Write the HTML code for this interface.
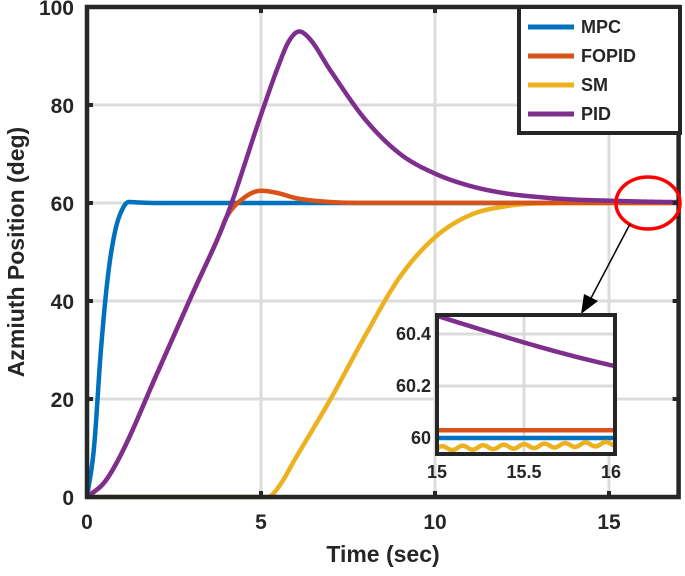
<!DOCTYPE html>
<html><head><meta charset="utf-8"><style>
body{margin:0;background:#fff;}
text{font-family:"Liberation Sans",sans-serif;font-weight:bold;fill:#262626;}
</style></head><body>
<svg id="chart" width="685" height="571" viewBox="0 0 685 571" xmlns="http://www.w3.org/2000/svg"></svg>
<script>
const xTicks=[0,5,10,15];
const yTicks=[0,20,40,60,80,100];
const mpcT=[0,0.2,0.4,0.6,0.8,1,1.2,1.5,2,17];
const mpcV=[0,10,30,45,54,58.5,60.2,60.1,60,60];
const fopidT=[0,0.5,1,2,3,3.8,4,4.5,5,5.5,6,7,8,17];
const fopidV=[0,3,9,25,41,53.5,57,61,62.5,62,61,60.2,60.03,60.03];
const smT=[0,5.2,5.5,6,7,8,9,10,11,12,13,15,17];
const smV=[0,0,2,8,20,33,45,53,57.5,59.3,59.9,59.97,59.99];
const pidT=[0,0.5,1,2,3,4,5,5.5,5.8,6.1,6.4,7,8,9,10,11,12,13,14,15,16,17];
const pidV=[0,3,9,25,41,57,78,88,93,95,93.5,87,77,70,66,63.5,62,61.2,60.7,60.47,60.28,60.17];
const insXTicks=[15,15.5,16];
const insYTicks=[60,60.2,60.4];
const names=["MPC","FOPID","SM","PID"];
const colors=["#0072BD","#D95319","#EDB120","#7E2F8E"];
const NS="http://www.w3.org/2000/svg";
const svg=document.getElementById('chart');
function el(tag,attrs,parent){const e=document.createElementNS(NS,tag);for(const k in attrs)e.setAttribute(k,attrs[k]);(parent||svg).appendChild(e);return e;}
const X=t=>87+t*34.8, Y=v=>497-v*4.9;
function mono(T,V){const n=T.length,d=[],m=new Array(n);
for(let i=0;i<n-1;i++)d.push((V[i+1]-V[i])/(T[i+1]-T[i]));
m[0]=d[0];m[n-1]=d[n-2];
for(let i=1;i<n-1;i++){m[i]=(d[i-1]*d[i]<0)?0:(d[i-1]+d[i])/2;}
for(let i=0;i<n-1;i++){if(d[i]===0){m[i]=0;m[i+1]=0;continue;}const a=m[i]/d[i],b=m[i+1]/d[i],s=a*a+b*b;if(s>9){const tt=3/Math.sqrt(s);m[i]=tt*a*d[i];m[i+1]=tt*b*d[i];}}
return t=>{let i=0;while(i<n-2&&t>T[i+1])i++;const h=T[i+1]-T[i],u=Math.min(1,Math.max(0,(t-T[i])/h));
const h00=2*u*u*u-3*u*u+1,h10=u*u*u-2*u*u+u,h01=-2*u*u*u+3*u*u,h11=u*u*u-u*u;
return h00*V[i]+h10*h*m[i]+h01*V[i+1]+h11*h*m[i+1];};}
function pathFn(f,t0,t1,N,sx,sy){let d='';for(let k=0;k<=N;k++){const t=t0+(t1-t0)*k/N;d+=(k?'L':'M')+sx(t).toFixed(2)+','+sy(f(t)).toFixed(2);}return d;}
xTicks.forEach(t=>{if(t>0){const g=el('line',{x1:X(t),x2:X(t),y1:Y(100),y2:Y(0),stroke:'#dcdcdc','stroke-width':3});

}});
yTicks.forEach(v=>{if(v>0&&v<100){const g=el('line',{x1:X(0),x2:X(17),y1:Y(v),y2:Y(v),stroke:'#dcdcdc','stroke-width':3});

}});
const series=[[mpcT,mpcV],[fopidT,fopidV],[smT,smV],[pidT,pidV]];
const fns=series.map(s=>mono(s[0],s[1]));
const order=[0,2,1,3];
order.forEach(i=>{const p=el('path',{d:pathFn(fns[i],0,17,1200,X,Y),fill:'none',stroke:colors[i],'stroke-width':4.5,'stroke-linejoin':'round'});

});
const ax=el('rect',{x:X(0),y:Y(100),width:X(17)-X(0),height:Y(0)-Y(100),fill:'none',stroke:'#262626','stroke-width':4.5});


xTicks.forEach(t=>{el('line',{x1:X(t),x2:X(t),y1:Y(0),y2:Y(0)-6,stroke:'#262626','stroke-width':4});el('line',{x1:X(t),x2:X(t),y1:Y(100),y2:Y(100)+6,stroke:'#262626','stroke-width':4});
const l=el('text',{x:X(t),y:529,'text-anchor':'middle','font-size':21});l.textContent=t;

});
yTicks.forEach(v=>{el('line',{x1:X(0),x2:X(0)+6,y1:Y(v),y2:Y(v),stroke:'#262626','stroke-width':4});el('line',{x1:X(17),x2:X(17)-6,y1:Y(v),y2:Y(v),stroke:'#262626','stroke-width':4});
const l=el('text',{x:74,y:Y(v)+8,'text-anchor':'end','font-size':21});l.textContent=v;

});
const xt=el('text',{x:383,y:562,'text-anchor':'middle','font-size':23});xt.textContent='Time (sec)';


const yt=el('text',{x:0,y:0,'text-anchor':'middle','font-size':23,transform:'translate(24,252) rotate(-90)'});yt.textContent='Azmiuth Position (deg)';


const lg=el('g',{});


el('rect',{x:519,y:7,width:161,height:126,fill:'#fff',stroke:'#262626','stroke-width':4},lg);
names.forEach((n,i)=>{const yy=27+i*29;
const e=el('g',{},lg);


el('line',{x1:528,x2:574,y1:yy,y2:yy,stroke:colors[i],'stroke-width':5},e);
const t=el('text',{x:581,y:yy+6,'font-size':18},e);t.textContent=n;});
const ci=el('ellipse',{cx:648,cy:203,rx:32,ry:26,fill:'none',stroke:'#ff0000','stroke-width':3.5});


const ar=el('line',{x1:630,y1:224,x2:590,y2:300,stroke:'#000','stroke-width':1.5});


el('polygon',{points:'581,314 584,294 598,301',fill:'#000'});
const IX=t=>437+(t-15)*174, IY=v=>438-(v-60)*260;
const ins=el('g',{});


el('rect',{x:437,y:315,width:178,height:139,fill:'#fff'},ins);
el('line',{x1:IX(15.5),x2:IX(15.5),y1:315,y2:454,stroke:'#dcdcdc','stroke-width':3},ins);
[60.2,60.4].forEach(v=>el('line',{x1:437,x2:615,y1:IY(v),y2:IY(v),stroke:'#dcdcdc','stroke-width':3},ins));
const cp=el('clipPath',{id:'ic'},ins);el('rect',{x:437,y:315,width:178,height:139},cp);
const ig=el('g',{'clip-path':'url(#ic)'},ins);
[3,1,0,2].forEach(i=>{let d;
if(i===2){const f=fns[2];d=pathFn(t=>f(t)-0.01+0.02*(t-15)*0.4+0.008*Math.sin((t-15)*2*Math.PI*8.5),15,16.03,200,IX,IY);}
else d=pathFn(fns[i],15,16.03,100,IX,IY);
const p=el('path',{d:d,fill:'none',stroke:colors[i],'stroke-width':4.5},ig);

});
el('rect',{x:437,y:315,width:178,height:139,fill:'none',stroke:'#262626','stroke-width':4},ins);
insXTicks.forEach(t=>{const l=el('text',{x:IX(t),y:478,'text-anchor':'middle','font-size':18},ins);l.textContent=t;

});
insYTicks.forEach(v=>{const l=el('text',{x:431,y:IY(v)+6,'text-anchor':'end','font-size':18},ins);l.textContent=v;

});
</script>
</body></html>
